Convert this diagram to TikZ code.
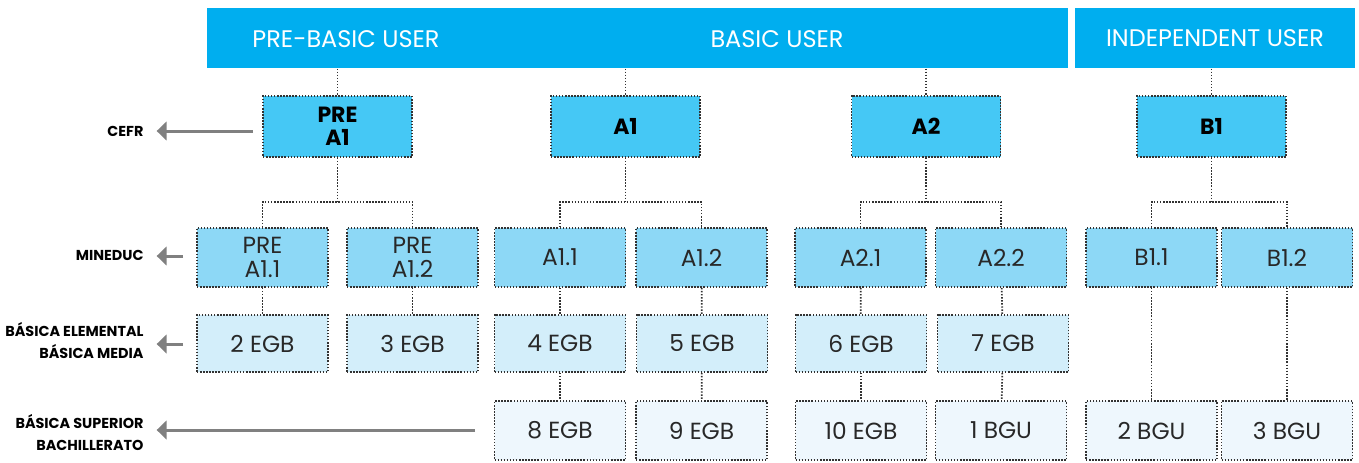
\documentclass[tikz,border=0pt]{standalone}
\usepackage{fontspec}
\setmainfont{Poppins}
\usetikzlibrary{arrows.meta}

\definecolor{bannerblue}{RGB}{0,174,239}
\definecolor{cefrblue}{RGB}{69,200,245}
\definecolor{mineblue}{RGB}{141,216,246}
\definecolor{egbblue}{RGB}{211,238,250}
\definecolor{bgublue}{RGB}{238,247,253}
\definecolor{dotgray}{RGB}{50,50,50}
\definecolor{arrgray}{RGB}{128,128,128}
\definecolor{txtgray}{RGB}{40,40,40}

\tikzset{every picture/.style={line width=0.75pt}}

\begin{document}
\begin{tikzpicture}[x=0.75pt,y=0.75pt,yscale=-1,xscale=1,
	banner/.style={fill=bannerblue, inner sep=0, minimum height=45pt, text=white, font=\fontsize{18}{20}\selectfont},
	bantext/.style={text=white, font=\fontsize{18}{20}\selectfont},
	cefrbox/.style={draw=dotgray, line width=1.3pt, dash pattern=on 1.1pt off 1.2pt, fill=cefrblue, minimum width=111.75pt, minimum height=45.75pt, inner sep=0, align=center, font=\fontsize{16.5}{17.5}\selectfont\bfseries},
	minebox/.style={draw=dotgray, line width=1.3pt, dash pattern=on 1.1pt off 1.2pt, fill=mineblue, minimum width=98.25pt, minimum height=44.25pt, inner sep=0, align=center, text=txtgray, font=\fontsize{17.5}{17.5}\selectfont},
	egbbox/.style={minebox, fill=egbblue, minimum height=42.75pt},
	bgubox/.style={minebox, fill=bgublue},
	conn/.style={draw=dotgray, line width=1.3pt, dash pattern=on 1.1pt off 1.2pt},
	lbl/.style={anchor=east, inner sep=0, align=right, font=\fontsize{10.8}{16.5}\selectfont\bfseries},
	arr/.style={draw=arrgray, line width=2.25pt, -{Triangle[length=7.5pt,width=14pt]}, shorten >=9.5pt}]
	\useasboundingbox (0,0) rectangle (1359,462);

	%Shape: Banners
	\node[banner, minimum width=645.75pt] (banA) at (637.5,38) {};
	\node[banner, minimum width=210pt] (banB) at (1215,38) {INDEPENDENT USER};
	% Text Node
	\node[bantext] (prebasic) at (346,39) {PRE-BASIC USER};
	% Text Node
	\node[bantext] (basic) at (777,39) {BASIC USER};

	%Shape: CEFR levels
	\node[cefrbox] (prea1) at (337.5,126.5) {PRE\\A1};
	\node[cefrbox] (a1) at (625.5,126.5) {A1};
	\node[cefrbox] (a2) at (926,126.5) {A2};
	\node[cefrbox] (b1) at (1211.5,126.5) {B1};

	%Shape: MINEDUC levels
	\node[minebox] (prea11) at (262.5,257.5) {PRE\\A1.1};
	\node[minebox] (prea12) at (412.5,257.5) {PRE\\A1.2};
	\node[minebox] (a11) at (560,257.5) {A1.1};
	\node[minebox] (a12) at (701.5,257.5) {A1.2};
	\node[minebox] (a21) at (860.5,257.5) {A2.1};
	\node[minebox] (a22) at (1001,257.5) {A2.2};
	\node[minebox] (b11) at (1151.5,257.5) {B1.1};
	\node[minebox] (b12) at (1287,257.5) {B1.2};

	%Shape: school years
	\node[egbbox] (egb2) at (262.5,343.5) {2 EGB};
	\node[egbbox] (egb3) at (412.5,343.5) {3 EGB};
	\node[egbbox] (egb4) at (560,343.5) {4 EGB};
	\node[egbbox] (egb5) at (702,343.5) {5 EGB};
	\node[egbbox] (egb6) at (861,343.5) {6 EGB};
	\node[egbbox] (egb7) at (1003,343.5) {7 EGB};

	\node[bgubox] (egb8) at (560,430.5) {8 EGB};
	\node[bgubox] (egb9) at (701.5,430.5) {9 EGB};
	\node[bgubox] (egb10) at (861,430.5) {10 EGB};
	\node[bgubox] (bgu1) at (1001,430.5) {1 BGU};
	\node[bgubox] (bgu2) at (1151.5,430.5) {2 BGU};
	\node[bgubox] (bgu3) at (1287,430.5) {3 BGU};

	%Straight Lines: banners to CEFR
	\draw[conn] (prea1.north |- banA.south) -- (prea1.north);
	\draw[conn] (a1.north |- banA.south) -- (a1.north);
	\draw[conn] (a2.north |- banA.south) -- (a2.north);
	\draw[conn] (b1.north |- banB.south) -- (b1.north);

	%Straight Lines: CEFR to MINEDUC
	\draw[conn] (prea1.south) -- ++(0,44) coordinate (jprea1);
	\draw[conn] (prea11.north) |- (jprea1) -| (prea12.north);
	\draw[conn] (a1.south) -- ++(0,44) coordinate (ja1);
	\draw[conn] (a11.north) |- (ja1) -| (a12.north);
	\draw[conn] (a2.south) -- ++(0,44) coordinate (ja2);
	\draw[conn] (a21.north) |- (ja2) -| (a22.north);
	\draw[conn] (b1.south) -- ++(0,44) coordinate (jb1);
	\draw[conn] (b11.north) |- (jb1) -| (b12.north);

	%Straight Lines: MINEDUC to years
	\draw[conn] (prea11) -- (egb2);
	\draw[conn] (prea12) -- (egb3);
	\draw[conn] (a11) -- (egb4);
	\draw[conn] (a12) -- (egb5);
	\draw[conn] (a21) -- (egb6);
	\draw[conn] (a22) -- (egb7);
	\draw[conn] (egb4) -- (egb8);
	\draw[conn] (egb5) -- (egb9);
	\draw[conn] (egb6) -- (egb10);
	\draw[conn] (egb7) -- (bgu1);
	\draw[conn] (b11) -- (bgu2);
	\draw[conn] (b12) -- (bgu3);

	% Text Node
	\node[lbl] (cefr) at (144,131) {CEFR};
	% Text Node
	\node[lbl] (mineduc) at (144,255) {MINEDUC};
	% Text Node
	\node[lbl] (elemental) at (144,341) {BÁSICA ELEMENTAL\\BÁSICA MEDIA};
	% Text Node
	\node[lbl] (superior) at (144,433) {BÁSICA SUPERIOR\\BACHILLERATO};

	%Straight Lines: arrows to labels
	\coordinate (tcefr) at (253,131);
	\coordinate (tmineduc) at (183,256);
	\coordinate (telemental) at (183,344);
	\coordinate (tsuperior) at (475,430);
	\draw[arr] (tcefr) -- (cefr.east |- tcefr);
	\draw[arr] (tmineduc) -- (mineduc.east |- tmineduc);
	\draw[arr] (telemental) -- (elemental.east |- telemental);
	\draw[arr] (tsuperior) -- (superior.east |- tsuperior);

\end{tikzpicture}
\end{document}
